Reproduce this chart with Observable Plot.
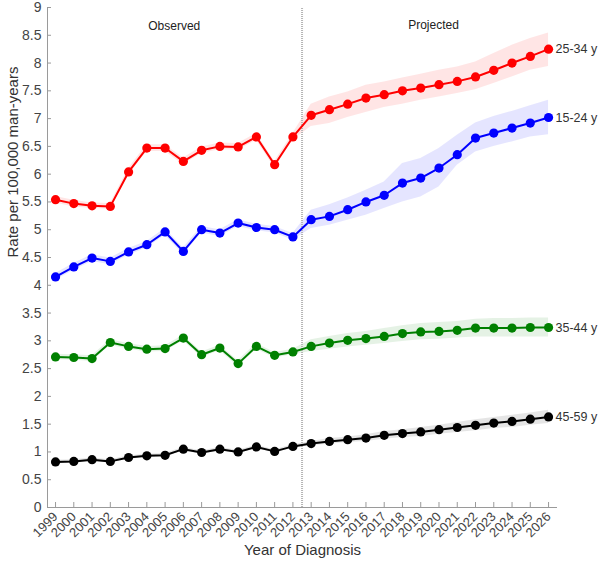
<!DOCTYPE html>
<html><head><meta charset="utf-8">
<script src="https://cdn.jsdelivr.net/npm/d3@7"></script>
<script src="https://cdn.jsdelivr.net/npm/@observablehq/plot@0.6"></script>
<style>body{margin:0;background:#fff;}</style>
</head><body><div id="chart"></div>
<script>
const years = [1999,2000,2001,2002,2003,2004,2005,2006,2007,2008,2009,2010,2011,2012,
               2013,2014,2015,2016,2017,2018,2019,2020,2021,2022,2023,2024,2025,2026];

const seriesNames = ["25-34 y", "15-24 y", "35-44 y", "45-59 y"];
const seriesColors = ["#ff0000", "#0000ff", "#008000", "#000000"];

const r2534 = [5.54,5.47,5.43,5.42,6.04,6.47,6.47,6.23,6.43,6.50,6.49,6.67,6.17,6.67,
               7.06,7.16,7.26,7.37,7.43,7.50,7.55,7.61,7.67,7.75,7.87,8.00,8.12,8.25];
const r2534Lo = [5.48,5.41,5.38,5.37,5.98,6.41,6.41,6.17,6.37,6.44,6.43,6.61,6.11,6.61,
                 6.86,6.91,7.02,7.11,7.20,7.26,7.33,7.39,7.45,7.52,7.63,7.75,7.87,7.94];
const r2534Hi = [5.60,5.53,5.48,5.47,6.10,6.53,6.53,6.29,6.49,6.56,6.55,6.73,6.23,6.73,
                 7.26,7.39,7.48,7.60,7.66,7.73,7.80,7.87,7.93,8.02,8.17,8.32,8.44,8.54];

const r1524 = [4.15,4.33,4.49,4.43,4.60,4.73,4.96,4.61,5.00,4.94,5.12,5.04,5.00,4.87,
               5.18,5.24,5.36,5.50,5.62,5.84,5.93,6.11,6.35,6.65,6.74,6.83,6.92,7.02];
const r1524Lo = [4.09,4.27,4.43,4.37,4.54,4.67,4.90,4.55,4.94,4.88,5.06,4.98,4.94,4.81,
                 5.02,5.08,5.17,5.26,5.38,5.50,5.59,5.77,6.16,6.40,6.50,6.58,6.67,6.71];
const r1524Hi = [4.21,4.39,4.55,4.49,4.66,4.79,5.02,4.67,5.06,5.00,5.18,5.10,5.06,4.93,
                 5.35,5.45,5.57,5.71,5.86,6.19,6.28,6.46,6.70,6.92,7.04,7.13,7.23,7.33];

const r3544 = [2.71,2.70,2.68,2.97,2.90,2.85,2.86,3.05,2.75,2.87,2.59,2.90,2.74,2.80,
               2.90,2.96,3.01,3.04,3.08,3.13,3.16,3.17,3.19,3.23,3.23,3.23,3.24,3.24];
const r3544Lo = [2.66,2.65,2.63,2.92,2.85,2.80,2.81,3.00,2.70,2.82,2.54,2.85,2.69,2.75,
                 2.81,2.85,2.89,2.92,2.95,2.99,3.02,3.03,3.05,3.07,3.07,3.07,3.07,3.07];
const r3544Hi = [2.76,2.75,2.73,3.02,2.95,2.90,2.91,3.10,2.80,2.92,2.64,2.95,2.79,2.85,
                 3.02,3.08,3.13,3.17,3.22,3.27,3.31,3.33,3.35,3.39,3.40,3.40,3.41,3.41];

const r4559 = [0.82,0.83,0.86,0.83,0.90,0.93,0.94,1.05,0.99,1.05,1.00,1.09,1.01,1.10,
               1.15,1.19,1.22,1.25,1.30,1.33,1.36,1.40,1.44,1.48,1.52,1.55,1.59,1.63];
const r4559Lo = [0.79,0.80,0.83,0.80,0.87,0.90,0.91,1.02,0.96,1.02,0.97,1.06,0.98,1.07,
                 1.11,1.14,1.17,1.19,1.23,1.26,1.28,1.32,1.35,1.38,1.42,1.44,1.48,1.51];
const r4559Hi = [0.85,0.86,0.89,0.86,0.93,0.96,0.97,1.08,1.02,1.08,1.03,1.12,1.04,1.13,
                 1.19,1.24,1.27,1.31,1.37,1.40,1.44,1.48,1.53,1.58,1.62,1.66,1.70,1.75];

const xDomain = [1998.56, 2026.49];
const yDomain = [0, 9];
const yTicks = [0,0.5,1,1.5,2,2.5,3,3.5,4,4.5,5,5.5,6,6.5,7,7.5,8,8.5,9];
const dividerYear = [2012.5];
const xTitle = "Year of Diagnosis";
const yTitle = "Rate per 100,000 man-years";
const phaseLabels = [
  {label: "Observed", year: 2005.5, rate: 8.66},
  {label: "Projected", year: 2019.7, rate: 8.69}
];

const seriesValues = [r2534, r1524, r3544, r4559];
const seriesLo = [r2534Lo, r1524Lo, r3544Lo, r4559Lo];
const seriesHi = [r2534Hi, r1524Hi, r3544Hi, r4559Hi];

const rows = [];
seriesNames.forEach((name, s) => {
  years.forEach((yr, i) => {
    rows.push({series: name, year: yr, rate: seriesValues[s][i], lo: seriesLo[s][i], hi: seriesHi[s][i]});
  });
});
const lastRows = seriesNames.map(name => rows.filter(r => r.series === name).at(-1));

const marks = [];
seriesNames.forEach((name, s) => {
  const data = rows.filter(r => r.series === name);
  marks.push(Plot.areaY(data, {x: "year", y1: "lo", y2: "hi", fill: seriesColors[s], fillOpacity: 0.1}));
});
marks.push(Plot.ruleX(dividerYear, {y1: yDomain[0], y2: yDomain[1], stroke: "#b5b5b5", strokeWidth: 2, strokeDasharray: "1,1"}));
seriesNames.forEach((name, s) => {
  const data = rows.filter(r => r.series === name);
  marks.push(Plot.line(data, {x: "year", y: "rate", stroke: seriesColors[s], strokeWidth: 2}));
  marks.push(Plot.dot(data, {x: "year", y: "rate", fill: seriesColors[s], r: 4.6, stroke: "none"}));
});

const chart = Plot.plot({
  width: 600,
  height: 568,
  marginLeft: 47,
  marginRight: 43,
  marginTop: 7,
  marginBottom: 61,
  style: {fontFamily: "'Liberation Sans', Arial, sans-serif", background: "#fff"},
  x: {type: "linear", domain: xDomain},
  y: {domain: yDomain},
  color: {domain: seriesNames, range: seriesColors},
  marks: [
    ...marks,
    Plot.ruleX([xDomain[0]], {y1: yDomain[0], y2: yDomain[1], stroke: "#9a9a9a", strokeWidth: 1}),
    Plot.ruleY([yDomain[0]], {x1: xDomain[0], x2: xDomain[1], stroke: "#9a9a9a", strokeWidth: 1}),
    Plot.axisY({ticks: yTicks, tickSize: -4, tickPadding: 10, tickFormat: d => String(d), fontSize: 14,
                color: "#444", stroke: "#9a9a9a", label: null}),
    Plot.axisX({ticks: years, tickSize: -5, tickPadding: 12, tickRotate: -45, tickFormat: d => String(d), fontSize: 13,
                color: "#444", stroke: "#9a9a9a", label: null}),
    Plot.text([yTitle], {frameAnchor: "left", rotate: -90, dx: -34, fontSize: 15, fill: "#333"}),
    Plot.text([xTitle], {frameAnchor: "bottom", dy: 47, fontSize: 15, fill: "#333"}),
    Plot.text(lastRows, {x: "year", y: "rate", text: "series", dx: 7, textAnchor: "start", fontSize: 12.5, fill: "#333"}),
    Plot.text(phaseLabels, {x: "year", y: "rate", text: "label", fontSize: 12, fill: "#222"})
  ]
});
document.getElementById("chart").appendChild(chart);
</script>
</body></html>
